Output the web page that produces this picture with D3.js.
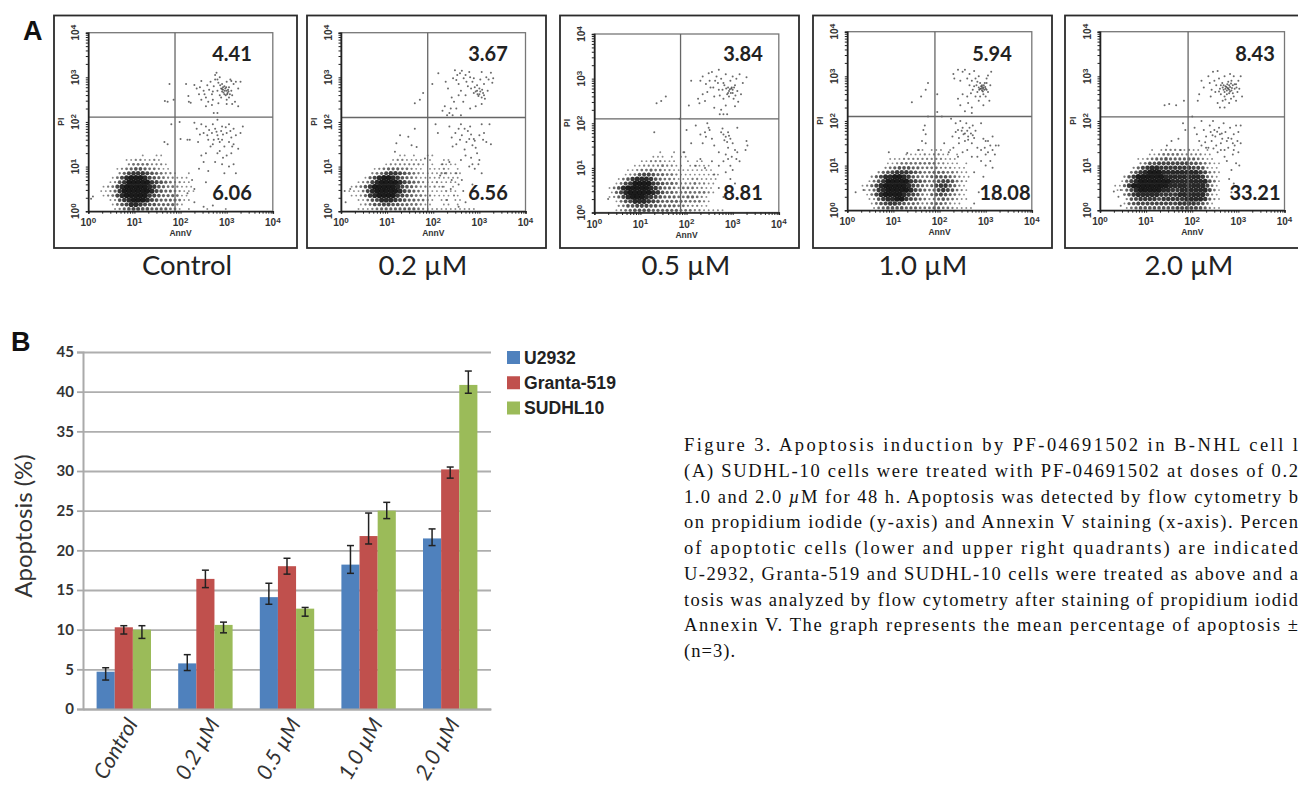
<!DOCTYPE html>
<html>
<head>
<meta charset="UTF-8">
<title>Figure 3</title>
<script src="https://d3js.org/d3.v7.min.js"></script>
<style>
body { margin: 0; background: #fff; overflow: hidden; }
svg { display: block; }
.tickLabel { font-family: "Liberation Sans", Arial, sans-serif; font-weight: bold; fill: #333; }
</style>
</head>
<body>
<svg id="chart" width="1298" height="788"></svg>
<script>
// ---- panel B values
const categories = ["Control", "0.2 µM", "0.5 µM", "1.0 µM", "2.0 µM"];
const seriesNames = ["U2932", "Granta-519", "SUDHL10"];
const u2932 = [4.7, 5.75, 14.1, 18.2, 21.5];
const u2932Top = [5.2, 6.85, 15.85, 20.6, 22.7];
const u2932Low = [3.65, 4.85, 13.2, 17.1, 20.6];
const granta = [10.3, 16.4, 18.0, 21.8, 30.2];
const grantaTop = [10.5, 17.5, 19.0, 24.7, 30.5];
const grantaLow = [9.45, 15.3, 17.0, 20.8, 29.1];
const sudhl = [10.0, 10.6, 12.65, 25.0, 40.85];
const sudhlTop = [10.5, 10.95, 12.8, 26.05, 42.6];
const sudhlLow = [8.9, 9.6, 11.7, 24.0, 39.8];
const yTicks = [0, 5, 10, 15, 20, 25, 30, 35, 40, 45];

// ---- panel A values
const panelNames = ["Control", "0.2 µM", "0.5 µM", "1.0 µM", "2.0 µM"];
const upperPct = ["4.41", "3.67", "3.84", "5.94", "8.43"];
const lowerPct = ["6.06", "6.56", "8.81", "18.08", "33.21"];
const xGate = [1.88, 1.88, 1.87, 1.9, 1.91];
const yGate = [2.11, 2.10, 2.10, 2.10, 2.09];

// dense part of each dot plot: darkness estimate 0-9 per 0.1 decade cell,
// first string is PI 1.3-1.4, last is PI 0-0.1, chars run AnnV 0 to 3.2
const density1 = [
"00000000000000000000000000000000",
"00000000000100110000000000000000",
"00000000112211210000000000000000",
"00000000233332221000000000000000",
"00000012345543321100000000000000",
"00000024677765432210010000000000",
"00000136899986543221110000000000",
"00001257999997654322110000000000",
"00012368999998754332111000000000",
"00112479999998654432111000000000",
"00012368999997654443110000000000",
"00001257899986544443110000000000",
"00000135688765544442100000000000",
"00000124566554444331010001000100"];
const density2 = [
"00000000000000000000000000000000",
"00000000000011010011000000000000",
"00000000000122111101001100000000",
"00000000012222222101011110000000",
"00000001234443321101112101000000",
"00000023467765432111122111000000",
"00000146899875432111111111000000",
"00012368999986543211211110000000",
"00123579999986543221211010000000",
"01113689999986543211112110000000",
"00112478999976543322111101000000",
"00011356888765443321011011000000",
"00001235566554433211001101000000",
"00011123444444443211111111111000"];
const density3 = [
"00000000000000100101000000000000",
"00000000000011101011000000000000",
"00000000001122211100101100000000",
"00000000112222322110111110000000",
"00000001123343322111111111000000",
"00000012356654433211111111100000",
"00000135788875433211122111100000",
"00001367999976544322232211000000",
"00013589999987544323332211000000",
"00014689999987544333333321000000",
"00012468999876544433443210000000",
"00001356888765444443333210000000",
"00000235566655444433222110000000",
"00001234555544444433322111110000"];
const density4 = [
"00000000000000011011101000000000",
"00000000000011112122110100000000",
"00000000011122222222211100000000",
"00000000112333333332211101000000",
"00000000234555443333222111000000",
"00000024567776543344433211000000",
"00000246889987543345554321100000",
"00001357999997654345665321000000",
"00012468999998654346775421000000",
"00012478999998654346765321000000",
"00001368999987653245654321000000",
"00001257889976543234543211000000",
"00000135677654432234432110000000",
"00000134555544433344332111100000"];
const density5 = [
"00000000000101222112110100000000",
"00000000001123333222221100000000",
"00000000112344544444432110000000",
"00000000235566666665543211000000",
"00000002467887777777665211000000",
"00000035789998888888876321000000",
"00000257999999888888887421000000",
"00001468999999988888888531000000",
"00011479999999988888888631000000",
"00011468999998877888888631000000",
"00000357888887777888888521000000",
"00000256777767777788887421000000",
"00000145666666666777765310000000",
"00000134555555556666654211000000"];

// sparse events as [log10 AnnV, log10 PI]
const events1 = [[1.65,1.55],[1.72,1.5],[1.66,2.47],[1.72,2.45],[1.85,2.5],[1.76,2.85],[1.8,1.95],[0.1,0.33],[0.06,0.28],
[2.12,2.85],[2.17,2.58],[2.18,2.45],[2.22,2.43],[2.3,2.83],[2.35,2.75],[2.42,2.78],[2.45,2.92],[2.5,2.7],[2.45,2.5],[2.55,2.55],[2.55,2.35],[2.6,2.45],[2.62,2.72],[2.65,2.9],[2.68,2.62],[2.7,2.5],[2.72,2.8],[2.75,3.05],[2.75,2.95],[2.78,3.1],[2.8,2.7],[2.82,2.88],[2.85,3.0],[2.85,2.6],[2.88,2.75],[2.9,2.85],[2.9,2.68],[2.92,2.72],[2.95,2.8],[2.95,2.62],[2.97,2.75],[3.0,2.9],[3.0,2.7],[3.0,2.5],[3.02,2.65],[3.05,2.78],[3.05,2.55],[3.08,2.95],[3.1,2.7],[3.12,2.6],[3.15,2.85],[3.18,2.45],[3.2,2.9],[3.25,2.75],[3.3,2.9],[3.25,2.35],[2.92,2.78],[2.98,2.6],[2.88,2.55],[3.03,2.72],
[2.93,2.66],[2.96,2.7],[2.99,2.78],[3.01,2.62],[2.9,2.74],[2.86,2.82],[3.04,2.68],[3.07,2.62],[2.8,2.95],[2.7,2.68],[2.58,2.82],[2.52,2.62],[2.4,2.62],[2.68,2.38],[2.82,2.42],[3.0,2.4],[3.12,2.4],[3.1,2.92],[2.72,2.2],[2.8,2.2],
[1.98,2.0],[2.0,1.62],[2.15,1.6],[2.2,1.6],[2.3,1.98],[2.35,1.85],[2.45,1.95],[2.5,1.75],[2.55,1.9],[2.6,1.6],[2.65,1.45],[2.68,1.75],[2.7,1.95],[2.72,1.6],[2.75,1.85],[2.8,2.05],[2.8,1.7],[2.85,1.55],[2.85,1.35],[2.88,1.8],[2.9,1.9],[2.9,1.6],[2.95,1.45],[3.0,1.75],[3.0,1.25],[3.05,1.95],[3.1,1.65],[3.1,1.3],[3.15,1.85],[3.15,1.5],[3.2,1.7],[3.25,1.4],[3.3,1.75],[3.35,1.9],[3.15,1.05],[3.2,0.85],[2.45,1.25],[2.5,1.1],[2.55,1.3],[2.4,0.95],[2.6,0.9],[2.25,0.7],[2.3,0.5],[2.15,0.4],[2.3,0.2],[2.5,0.1],[2.7,0.13],[2.75,1.1],[2.9,1.05],[2.95,0.85],[3.05,1.0],[2.55,0.65],
[2.62,1.82],[2.78,1.78],[2.92,1.72],[2.98,1.88],[3.08,1.8],[2.82,1.62],[2.7,1.5],[2.58,1.7],[2.42,1.72],[2.38,1.55],[3.05,1.55],[3.12,1.45],[2.92,1.2],[2.8,1.3]];
const events2 = [[1.6,1.85],[1.2,1.52],[1.28,1.7],[1.46,1.67],[1.6,2.42],[1.71,2.5],[1.78,2.65],[1.53,1.48],[1.64,1.44],[1.17,1.33],[1.82,1.18],[0.08,0.45],[0.2,0.5],[0.1,0.2],
[2.11,3.09],[1.98,2.85],[2.27,2.9],[2.32,2.75],[2.47,3.16],[2.43,2.98],[2.5,2.94],[2.58,3.09],[2.62,3.15],[2.55,2.85],[2.6,2.7],[2.7,3.05],[2.72,2.9],[2.78,3.12],[2.8,3.0],[2.82,2.75],[2.85,2.9],[2.88,2.65],[2.9,2.78],[2.95,2.7],[2.98,2.58],[3.0,2.75],[3.02,2.95],[3.05,3.12],[3.08,2.65],[3.1,2.85],[3.12,2.52],[3.15,3.0],[3.2,2.95],[3.25,3.1],[3.28,2.88],[3.3,2.98],[3.18,2.7],[2.95,2.82],[3.05,2.55],[2.4,2.55],[2.45,2.45],[2.38,2.3],[2.25,2.35],[2.5,2.3],[2.65,2.45],[2.8,2.3],[2.92,2.35],[3.05,2.4],
[2.52,3.05],[2.66,2.98],[2.75,2.8],[2.92,2.68],[2.96,2.62],[3.02,2.68],[3.0,2.62],[3.06,2.72],[3.1,2.6],[2.88,2.98],[2.55,2.6],[2.7,2.6],[2.35,2.2],[2.42,2.15],[2.6,2.15],
[2.05,1.95],[2.1,1.75],[2.2,2.25],[2.3,2.15],[2.35,1.9],[2.4,1.65],[2.42,1.45],[2.5,1.5],[2.55,1.85],[2.6,1.95],[2.62,1.7],[2.68,1.38],[2.72,1.55],[2.75,1.8],[2.78,1.62],[2.8,1.9],[2.85,1.48],[2.9,1.58],[2.95,1.3],[3.0,1.7],[3.05,1.95],[3.1,1.75],[3.15,1.55],[3.25,1.5],[3.22,1.95],[3.0,1.15],[2.85,1.05],[2.78,1.0],[2.9,0.95],[3.05,0.85],[2.6,1.15],[2.35,1.1],[2.2,1.05],[2.25,0.85],[2.4,0.7],[2.55,0.6],[2.65,0.45],[2.45,0.35],[2.3,0.25],[2.7,0.2],[2.85,0.6],[2.8,0.35],[2.55,0.1],[2.2,0.55],
[2.48,1.75],[2.58,1.6],[2.68,1.85],[2.82,1.72],[2.88,1.62],[2.92,1.42],[3.08,1.6],[2.7,1.25],[2.82,1.2],[2.98,1.05],[2.5,0.85],[2.62,0.7],[2.15,0.8],[2.38,0.5]];
const events3 = [[1.45,2.5],[1.55,2.6],[1.35,2.45],[1.3,1.8],[1.85,2.1],[0.3,0.3],
[2.1,2.95],[2.05,2.4],[2.25,2.55],[2.28,2.45],[2.3,2.95],[2.35,3.05],[2.42,2.88],[2.45,2.7],[2.48,3.12],[2.5,2.95],[2.55,3.15],[2.58,2.8],[2.6,2.6],[2.65,3.05],[2.68,2.9],[2.7,3.2],[2.72,2.62],[2.75,3.0],[2.78,2.75],[2.8,2.55],[2.82,2.85],[2.85,3.1],[2.88,2.65],[2.9,2.8],[2.92,2.72],[2.95,2.95],[2.97,2.78],[3.0,3.05],[3.0,2.68],[3.02,2.55],[3.05,2.85],[3.08,3.0],[3.1,2.72],[3.12,2.48],[3.15,3.1],[3.18,2.65],[3.22,2.9],[3.3,3.03],[2.98,2.8],[2.92,2.6],[2.4,2.5],[2.6,2.35],[2.75,2.3],[2.85,2.4],[3.05,2.38],
[2.94,2.76],[2.96,2.68],[3.0,2.75],[3.03,2.8],[2.9,2.68],[2.86,2.78],[3.06,2.62],[2.8,2.9],[2.7,2.75],[2.62,2.95],[2.52,2.8],[2.35,2.65],[2.72,2.2],[2.8,2.2],[2.88,2.2],
[2.0,1.85],[2.2,1.95],[2.3,1.75],[2.35,1.55],[2.4,1.8],[2.45,2.0],[2.5,1.85],[2.55,1.65],[2.6,1.5],[2.7,1.35],[2.75,1.8],[2.8,1.75],[2.85,1.7],[2.9,1.8],[2.95,1.65],[2.9,1.45],[2.85,1.3],[3.0,1.55],[3.05,1.4],[3.1,1.9],[3.1,1.35],[3.15,1.15],[3.3,1.6],[3.32,1.5],[3.28,1.4],[2.95,1.05],[3.0,0.95],[2.85,0.9],[2.95,0.75],[2.55,1.15],[2.3,1.2],[2.2,1.05],[2.4,1.0],[2.6,0.85],[1.95,1.35],[2.1,1.55],[2.7,1.05],[2.8,0.35],[2.7,0.55],[3.05,0.65],
[2.82,1.62],[2.88,1.58],[2.92,1.72],[2.78,1.88],[2.42,1.7],[2.48,1.9],[2.98,1.25],[3.08,1.2],[2.8,1.15],[2.9,1.2]];
const events4 = [[1.4,2.42],[1.75,2.85],[1.7,2.7],[1.6,2.55],[1.95,2.6],[1.75,2.1],[1.68,1.9],[1.65,1.8],[1.7,1.7],[1.62,1.55],[1.7,1.5],[1.55,1.35],[0.9,1.3],[1.3,1.28],[0.18,0.4],[0.35,0.45],
[2.3,3.05],[2.32,2.95],[2.4,3.15],[2.45,2.9],[2.5,3.1],[2.55,3.15],[2.6,2.95],[2.65,2.8],[2.65,3.05],[2.7,2.9],[2.72,2.7],[2.75,3.12],[2.78,2.95],[2.8,2.8],[2.82,2.65],[2.85,3.0],[2.85,2.75],[2.88,2.85],[2.9,2.72],[2.92,2.8],[2.92,2.68],[2.95,2.75],[2.95,2.6],[2.98,2.85],[3.0,2.72],[3.0,2.55],[3.02,2.95],[3.05,3.02],[3.05,2.65],[3.08,2.45],[3.1,2.8],[3.12,3.1],[2.88,2.72],[2.92,2.76],[2.97,2.7],[2.4,2.5],[2.45,2.35],[2.5,2.6],[2.62,2.4],[2.7,2.3],[2.85,2.45],[2.95,2.35],
[2.94,2.72],[2.9,2.78],[2.96,2.8],[2.99,2.76],[2.86,2.7],[3.02,2.7],[2.94,2.66],[2.82,2.88],[2.75,2.78],[2.68,2.62],[2.6,2.55],[2.78,2.55],[2.88,2.55],[3.02,2.85],[2.55,2.22],[2.7,2.18],
[1.95,2.2],[2.05,2.1],[2.25,2.05],[2.35,1.95],[2.4,1.8],[2.42,1.62],[2.45,2.0],[2.5,1.85],[2.52,1.7],[2.55,1.55],[2.58,1.95],[2.6,1.78],[2.62,1.65],[2.65,1.85],[2.68,1.72],[2.7,1.5],[2.72,1.9],[2.75,1.62],[2.78,1.78],[2.82,1.4],[2.9,1.95],[2.95,1.6],[2.98,1.4],[3.0,1.25],[3.05,1.55],[3.1,1.45],[3.15,1.65],[3.15,1.35],[3.22,1.45],[3.28,1.45],[3.1,1.1],[3.0,1.0],[3.15,0.95],[2.9,1.1],[2.7,1.2],[2.5,1.3],[2.3,1.4],[2.2,1.3],[2.1,1.5],[2.95,0.75],[2.85,0.4],[3.0,0.5],[2.75,0.85],[3.15,0.25],[2.75,0.15],
[2.35,1.75],[2.48,1.78],[2.55,1.72],[2.62,1.58],[2.72,1.68],[2.42,1.5],[2.28,1.65],[2.9,1.35],[3.05,1.3],[2.82,1.2],[2.6,1.35],[2.4,1.2],[3.2,1.25],[3.0,1.55]];
const events5 = [[1.4,2.35],[1.5,2.38],[1.65,2.35],[1.82,2.45],[1.8,1.95],[1.85,1.8],[1.55,1.55],[1.45,1.45],[1.7,1.6],[1.75,1.35],[0.4,0.3],[0.3,0.42],[0.45,0.45],[0.45,0.1],
[2.12,2.45],[2.15,2.6],[2.2,2.9],[2.25,2.75],[2.35,3.0],[2.38,2.85],[2.42,2.7],[2.45,3.1],[2.48,2.9],[2.5,2.65],[2.52,2.8],[2.55,3.12],[2.58,2.95],[2.6,2.72],[2.62,2.6],[2.65,2.85],[2.68,2.7],[2.7,3.0],[2.7,2.55],[2.72,2.78],[2.75,2.68],[2.77,2.74],[2.78,2.88],[2.8,2.62],[2.82,3.05],[2.82,2.76],[2.85,2.68],[2.85,2.9],[2.88,2.8],[2.9,2.55],[2.9,3.0],[2.92,2.72],[2.95,2.82],[2.95,2.45],[2.98,2.65],[3.0,2.9],[3.02,2.72],[2.72,2.72],[2.8,2.7],[2.75,2.6],[2.68,2.8],[3.05,3.0],[3.08,2.55],[2.6,2.3],[2.55,2.4],[2.7,2.3],[2.8,2.4],
[2.74,2.76],[2.78,2.72],[2.82,2.66],[2.86,2.74],[2.7,2.65],[2.66,2.75],[2.62,2.8],[2.88,2.62],[2.92,2.82],[2.76,2.82],[2.8,2.8],[2.84,2.84],[2.58,2.66],[2.96,2.75],[2.72,2.48],[2.84,2.5],[2.66,2.45],[2.4,2.55],
[2.0,2.1],[2.05,1.85],[2.1,1.7],[2.15,1.55],[2.2,1.45],[2.2,2.0],[2.25,1.8],[2.3,1.65],[2.35,1.4],[2.38,1.9],[2.4,1.75],[2.42,1.55],[2.45,2.0],[2.48,1.8],[2.5,1.65],[2.52,1.45],[2.55,1.3],[2.58,1.85],[2.6,1.7],[2.62,1.5],[2.65,1.6],[2.68,1.95],[2.7,1.35],[2.72,1.75],[2.75,1.55],[2.78,1.4],[2.82,1.85],[2.85,1.6],[2.88,1.25],[2.9,1.7],[2.92,1.45],[2.95,1.9],[2.98,1.55],[3.0,1.3],[3.02,1.0],[2.95,1.05],[3.0,1.75],[3.05,1.9],[3.05,1.5],[2.85,0.9],[2.75,1.1],[2.8,0.7],[2.9,0.6],[2.85,0.4],
[2.28,1.52],[2.44,1.68],[2.54,1.76],[2.64,1.72],[2.78,1.62],[2.88,1.5],[2.62,1.35],[2.46,1.38],[2.3,1.4],[2.7,1.2],[2.9,1.35]];
const panelEvents = [events1, events2, events3, events4, events5];
const panelDensity = [density1, density2, density3, density4, density5];

// ---- caption, as far as it is visible
const captionLines = [
"Figure 3. Apoptosis induction by PF-04691502 in B-NHL cell l",
"(A) SUDHL-10 cells were treated with PF-04691502 at doses of 0.2",
"1.0 and 2.0 µM for 48 h. Apoptosis was detected by flow cytometry b",
"on propidium iodide (y-axis) and Annexin V staining (x-axis). Percen",
"of apoptotic cells (lower and upper right quadrants) are indicated",
"U-2932, Granta-519 and SUDHL-10 cells were treated as above and a",
"tosis was analyzed by flow cytometry after staining of propidium iodid",
"Annexin V. The graph represents the mean percentage of apoptosis ±",
"(n=3)."];

const svg = d3.select("#chart");
const labelFont = "Lato, 'Open Sans', sans-serif";

const defs = svg.append("defs");
defs.append("filter").attr("id", "soft").append("feGaussianBlur").attr("stdDeviation", 0.4);
defs.append("filter").attr("id", "softer").append("feGaussianBlur").attr("stdDeviation", 0.65);

// panel letters
svg.append("text").attr("x", 23).attr("y", 40).text("A")
  .style("font", "bold 27px 'Liberation Sans', Arial, sans-serif").style("fill", "#111");
svg.append("text").attr("x", 11).attr("y", 351).text("B")
  .style("font", "bold 27px 'Liberation Sans', Arial, sans-serif").style("fill", "#111");

// ---------------- panel A
const frames = [[54, 297], [307, 546], [560, 799], [813, 1052], [1065, 1310]];
const plotLeft = [88.3, 341, 594.3, 847.3, 1100];
const plotTop = [32.7, 32.7, 34, 31.7, 31.7];
const upperX = [232, 488, 743, 992, 1255];
const lowerX = [232, 488, 743, 1005, 1255];
const nameX = [187, 423, 686, 923, 1189];
const plotW = 184.5, plotH = 178.5;

function powerLabel(sel, exp) {
  sel.text("10").append("tspan").attr("dy", "-0.4em").style("font-size", "0.8em").text(exp);
}

panelNames.forEach(function (name, i) {
  const left = plotLeft[i], top = plotTop[i];

  svg.append("rect").attr("x", frames[i][0]).attr("y", 15.5)
    .attr("width", frames[i][1] - frames[i][0]).attr("height", 232.5)
    .style("fill", "none").style("stroke", "#2b2b2b").style("stroke-width", 1.8);

  const g = svg.append("g").attr("transform", "translate(" + left + "," + top + ")");
  const x = d3.scaleLog().domain([1, 10000]).range([0, plotW]);
  const y = d3.scaleLog().domain([1, 10000]).range([plotH, 0]);

  // density cells, every other row shifted half a cell so no square lattice shows
  const cells = [];
  panelDensity[i].forEach(function (row, r) {
    row.split("").forEach(function (ch, c) {
      if (ch !== "0") cells.push({ lx: c / 10 + (r % 2 ? 0.08 : 0.03), ly: (13 - r) / 10 + 0.05, d: +ch });
    });
  });
  g.append("g").attr("filter", "url(#softer)").selectAll("circle").data(cells).enter().append("circle")
    .attr("cx", d => x(Math.pow(10, d.lx)))
    .attr("cy", d => y(Math.pow(10, d.ly)))
    .attr("r", d => 0.7 + d.d * 0.23)
    .style("fill", "#111")
    .style("opacity", d => 0.45 + d.d * 0.055);

  // single events
  g.append("g").attr("filter", "url(#soft)").selectAll("circle").data(panelEvents[i]).enter().append("circle")
    .attr("cx", d => x(Math.pow(10, d[0])))
    .attr("cy", d => y(Math.pow(10, d[1])))
    .attr("r", 1)
    .style("fill", "#444")
    .style("opacity", 0.8);

  // plot box and gates
  g.append("rect").attr("width", plotW).attr("height", plotH)
    .style("fill", "none").style("stroke", "#777").style("stroke-width", 1.3);
  g.append("line").attr("x1", x(Math.pow(10, xGate[i]))).attr("x2", x(Math.pow(10, xGate[i])))
    .attr("y1", 0).attr("y2", plotH).style("stroke", "#666").style("stroke-width", 1.3);
  g.append("line").attr("y1", y(Math.pow(10, yGate[i]))).attr("y2", y(Math.pow(10, yGate[i])))
    .attr("x1", 0).attr("x2", plotW).style("stroke", "#666").style("stroke-width", 1.3);

  // log axes with minor ticks
  const xAxis = d3.axisBottom(x).tickValues(x.ticks()).tickSize(2.5).tickFormat("");
  const yAxis = d3.axisLeft(y).tickValues(y.ticks()).tickSize(2.5).tickFormat("");
  const ax = g.append("g").attr("transform", "translate(0," + plotH + ")").call(xAxis);
  const ay = g.append("g").call(yAxis);
  [ax, ay].forEach(function (a) {
    a.selectAll("path").style("stroke", "#222").style("stroke-width", 1.6);
    a.selectAll("line").style("stroke", "#222").style("stroke-width", 1);
  });

  [1, 10, 100, 1000, 10000].forEach(function (v, e) {
    g.append("text").attr("class", "tickLabel").attr("x", x(v)).attr("y", plotH + 15)
      .attr("text-anchor", "middle").style("font-size", "10px").call(powerLabel, e);
    g.append("text").attr("class", "tickLabel")
      .attr("transform", "translate(-9," + y(v) + ") rotate(-90)")
      .attr("text-anchor", "middle").style("font-size", "10px").call(powerLabel, e);
  });
  g.append("text").attr("class", "tickLabel").attr("x", plotW / 2).attr("y", plotH + 25)
    .attr("text-anchor", "middle").style("font-size", "8.5px").text("AnnV");
  g.append("text").attr("class", "tickLabel")
    .attr("transform", "translate(-24,89) rotate(-90)")
    .attr("text-anchor", "middle").style("font-size", "8.5px").text("PI");

  svg.append("text").attr("x", upperX[i]).attr("y", 61).attr("text-anchor", "middle")
    .style("font", "bold 20px " + labelFont).style("fill", "#222").text(upperPct[i]);
  svg.append("text").attr("x", lowerX[i]).attr("y", 200).attr("text-anchor", "middle")
    .style("font", "bold 20px " + labelFont).style("fill", "#222").text(lowerPct[i]);
  svg.append("text").attr("x", nameX[i]).attr("y", 275).attr("text-anchor", "middle")
    .style("font", "27.5px " + labelFont).style("fill", "#222").text(name);
});

// ---------------- panel B
const margin = { left: 83, right: 491, top: 352, bottom: 709 };
const xBand = d3.scaleBand().domain(categories).range([margin.left, margin.right]).paddingInner(1 / 3).paddingOuter(1 / 6);
const xSeries = d3.scaleBand().domain(seriesNames).range([0, xBand.bandwidth()]);
const yScale = d3.scaleLinear().domain([0, 45]).range([margin.bottom, margin.top]);
const colours = d3.scaleOrdinal().domain(seriesNames).range(["#4f81bd", "#c0504d", "#9bbb59"]);

const grid = svg.append("g").attr("transform", "translate(" + margin.left + ",0)")
  .call(d3.axisLeft(yScale).tickValues(yTicks).tickSize(-(margin.right - margin.left)).tickFormat(""));
grid.select(".domain").remove();
grid.selectAll("line").style("stroke", "#aeaeae").style("stroke-width", 1.8);

const series = [
  { name: "U2932", vals: u2932, top: u2932Top, low: u2932Low },
  { name: "Granta-519", vals: granta, top: grantaTop, low: grantaLow },
  { name: "SUDHL10", vals: sudhl, top: sudhlTop, low: sudhlLow }
];

series.forEach(function (s) {
  const g = svg.append("g");
  g.selectAll("rect").data(categories).enter().append("rect")
    .attr("x", d => xBand(d) + xSeries(s.name))
    .attr("width", xSeries.bandwidth())
    .attr("y", (d, i) => yScale(s.vals[i]))
    .attr("height", (d, i) => yScale(0) - yScale(s.vals[i]))
    .style("fill", colours(s.name));
});

// error bars on top of all the bars
series.forEach(function (s) {
  categories.forEach(function (c, i) {
    const cx = xBand(c) + xSeries(s.name) + xSeries.bandwidth() / 2;
    const bar = svg.append("g").style("stroke", "#222").style("stroke-width", 1.5);
    bar.append("line").attr("x1", cx).attr("x2", cx).attr("y1", yScale(s.top[i])).attr("y2", yScale(s.low[i]));
    bar.append("line").attr("x1", cx - 3.5).attr("x2", cx + 3.5).attr("y1", yScale(s.top[i])).attr("y2", yScale(s.top[i]));
    bar.append("line").attr("x1", cx - 3.5).attr("x2", cx + 3.5).attr("y1", yScale(s.low[i])).attr("y2", yScale(s.low[i]));
  });
});

// axes
const yAxisB = svg.append("g").attr("transform", "translate(" + margin.left + ",0)")
  .call(d3.axisLeft(yScale).tickValues(yTicks).tickSize(6).tickPadding(3));
yAxisB.select(".domain").style("stroke", "#aaa").style("stroke-width", 2);
yAxisB.selectAll("line").style("stroke", "#aaa").style("stroke-width", 1.8);
yAxisB.selectAll("text").style("font", "bold 15px " + labelFont).style("fill", "#333");

const xAxisB = svg.append("g").attr("transform", "translate(0," + margin.bottom + ")")
  .call(d3.axisBottom(xBand).tickSize(0).tickFormat(""));
xAxisB.select(".domain").style("stroke", "#aaa").style("stroke-width", 2);

const labelEndX = [132, 214, 295, 377, 454];
categories.forEach(function (c, i) {
  svg.append("text").attr("transform", "translate(" + labelEndX[i] + ",720) rotate(-60)")
    .attr("text-anchor", "end").attr("dy", "0.35em")
    .style("font", "italic 21.5px " + labelFont).style("fill", "#333").text(c);
});

svg.append("text").attr("transform", "translate(32,526) rotate(-90)").attr("text-anchor", "middle")
  .style("font", "24px " + labelFont).style("fill", "#333").text("Apoptosis (%)");

// legend
const legendY = d3.scalePoint().domain(seriesNames).range([357.5, 408]);
seriesNames.forEach(function (name) {
  svg.append("rect").attr("x", 507).attr("y", legendY(name) - 6.5).attr("width", 13).attr("height", 13)
    .style("fill", colours(name));
  svg.append("text").attr("x", 524).attr("y", legendY(name) + 6)
    .style("font", "bold 17.6px 'Liberation Sans', Arial, sans-serif").style("fill", "#222").text(name);
});

// caption, stretched to the justified line widths of the page
const captionY = d3.scalePoint().domain(d3.range(captionLines.length)).range([451, 657]);
captionLines.forEach(function (line, i) {
  const t = svg.append("text").attr("x", 684).attr("y", captionY(i))
    .style("font", "18.5px 'Liberation Serif', 'Times New Roman', serif").style("fill", "#111");
  t.attr("textLength", i < captionLines.length - 1 ? 614 : 51).attr("lengthAdjust", "spacing");
  if (line.includes("µ")) {
    const parts = line.split("µ");
    t.append("tspan").text(parts[0]);
    t.append("tspan").style("font-style", "italic").text("µ");
    t.append("tspan").text(parts[1]);
  } else {
    t.text(line);
  }
});
</script>
</body>
</html>
